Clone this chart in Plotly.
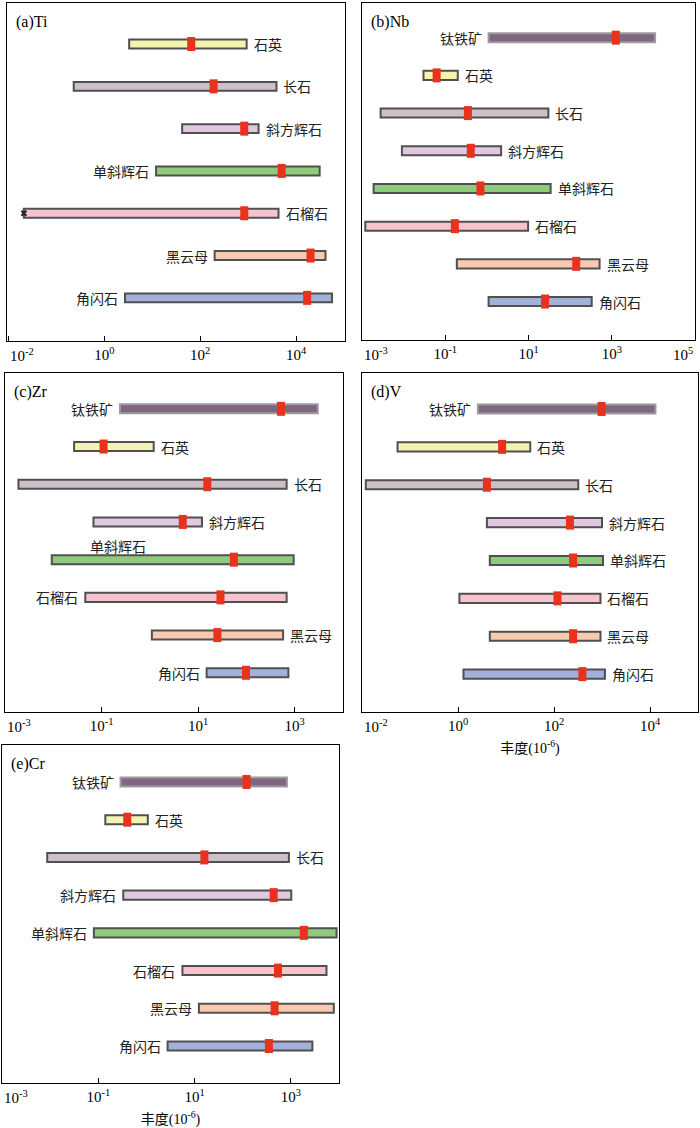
import numpy as np
import plotly.graph_objects as go

# mineral names (top to bottom)
minerals_ti = ['石英', '长石', '斜方辉石', '单斜辉石', '石榴石', '黑云母', '角闪石']
minerals = ['钛铁矿', '石英', '长石', '斜方辉石', '单斜辉石', '石榴石', '黑云母', '角闪石']

# abundance ranges (10^-6): min, max and the red central value
ti_min = [3.3, 0.23, 42, 12, 0.021, 200, 2.7]
ti_max = [930, 3900, 1650, 31000, 4300, 41000, 56000]
ti_mid = [65, 190, 830, 5000, 830, 20000, 17000]

nb_min = [1.1, 0.03, 0.0028, 0.0091, 0.0019, 0.0012, 0.19, 1.1]
nb_max = [11000, 0.2, 30, 2.2, 34, 9.8, 510, 330]
nb_mid = [1250, 0.062, 0.35, 0.41, 0.7, 0.17, 140, 25]

zr_min = [0.24, 0.027, 0.0019, 0.068, 0.0093, 0.046, 1.1, 15]
zr_max = [3000, 1.2, 680, 12, 950, 680, 575, 740]
zr_mid = [520, 0.11, 15.5, 4.8, 55, 29, 25, 98]

v_min = [2.6, 0.055, 0.012, 4.0, 4.6, 1.07, 4.6, 1.3]
v_max = [13000, 32, 320, 1000, 1050, 930, 930, 1150]
v_mid = [980, 8.3, 4.0, 215, 250, 118, 250, 390]

cr_min = [0.29, 0.14, 0.0087, 0.33, 0.081, 5.6, 12.3, 2.75]
cr_max = [830, 1.07, 910, 1020, 8900, 5500, 7800, 2800]
cr_mid = [120, 0.4, 16, 440, 1860, 540, 460, 350]

fill = {'钛铁矿': '#806680', '石英': '#f5f3b0', '长石': '#cdc0c8', '斜方辉石': '#e0c8e0',
        '单斜辉石': '#8fcb7b', '石榴石': '#f7c3cf', '黑云母': '#f8cbb0', '角闪石': '#a3b0da'}
RED = '#e8321e'
SERIF = 'Liberation Serif, Noto Sans CJK SC'
CJK = 'Noto Sans CJK SC'


def ticks(a, b):
	exps = list(range(a, b + 1, 2))
	return exps, ['10<sup>{}</sup>'.format(e) for e in exps]


panels = [
	dict(tag='(a)Ti', names=minerals_ti, lo=ti_min, hi=ti_max, mid=ti_mid,
	     xr=[-2.03, 5.02], tk=ticks(-2, 4), yr=[7.02, -0.97], barw=0.21,
	     xd=[7 / 700, 345 / 700], yd=[1 - 341 / 1128, 1 - 3 / 1128],
	     side=['r', 'r', 'r', 'l', 'r', 'l', 'l'], title=''),
	dict(tag='(b)Nb', names=minerals, lo=nb_min, hi=nb_max, mid=nb_mid,
	     xr=[-3, 5], tk=ticks(-3, 5), yr=[8.02, -0.92], barw=0.24,
	     xd=[362 / 700, 695 / 700], yd=[1 - 340 / 1128, 1 - 3 / 1128],
	     side=['l', 'r', 'r', 'r', 'r', 'r', 'r', 'r'], title=''),
	dict(tag='(c)Zr', names=minerals, lo=zr_min, hi=zr_max, mid=zr_mid,
	     xr=[-3, 4], tk=ticks(-3, 3), yr=[8.04, -0.95], barw=0.24,
	     xd=[5 / 700, 343 / 700], yd=[1 - 712 / 1128, 1 - 373 / 1128],
	     side=['l', 'r', 'r', 'r', 't', 'l', 'r', 'l'], title=''),
	dict(tag='(d)V', names=minerals, lo=v_min, hi=v_max, mid=v_mid,
	     xr=[-2, 5], tk=ticks(-2, 4), yr=[8.0, -0.95], barw=0.24,
	     xd=[362 / 700, 698 / 700], yd=[1 - 712 / 1128, 1 - 373 / 1128],
	     side=['l', 'r', 'r', 'r', 'r', 'r', 'r', 'r'], title='丰度(10<sup>-6</sup>)'),
	dict(tag='(e)Cr', names=minerals, lo=cr_min, hi=cr_max, mid=cr_mid,
	     xr=[-3, 4], tk=ticks(-3, 3), yr=[7.98, -0.98], barw=0.24,
	     xd=[2 / 700, 339 / 700], yd=[1 - 1083 / 1128, 1 - 745 / 1128],
	     side=['l', 'r', 'r', 'l', 'l', 'l', 'l', 'l'], title='丰度(10<sup>-6</sup>)'),
]

fig = go.Figure()
annotations = []

for k, p in enumerate(panels, start=1):
	sfx = '' if k == 1 else str(k)
	xa, ya = 'x' + sfx, 'y' + sfx
	names = p['names']
	ypos = list(range(len(names)))
	lo, hi, mid = np.array(p['lo'], float), np.array(p['hi'], float), np.array(p['mid'], float)

	fig.add_trace(go.Bar(
		y=ypos, x=hi - lo, base=lo, orientation='h', width=p['barw'],
		marker=dict(color=[fill[m] for m in names],
		            line=dict(color=['#9c9c9c' if m == '钛铁矿' else '#505050' for m in names], width=2)),
		xaxis=xa, yaxis=ya, showlegend=False, hoverinfo='skip'))

	fig.add_trace(go.Scatter(
		x=mid, y=ypos, mode='markers', xaxis=xa, yaxis=ya, showlegend=False, hoverinfo='skip',
		marker=dict(symbol='line-ns', size=10, color=RED, line=dict(color=RED, width=8))))

	# mineral labels
	for i, m in enumerate(names):
		s = p['side'][i]
		a = dict(xref=xa, yref=ya, y=i, text=m, showarrow=False,
		         font=dict(family=CJK, size=14, color='#222'))
		if s == 'r':
			a.update(x=np.log10(hi[i]), xanchor='left', xshift=5)
		elif s == 'l':
			a.update(x=np.log10(lo[i]), xanchor='right', xshift=-5)
		else:
			a.update(x=np.log10(lo[i]), xanchor='left', xshift=36, yshift=14)
		annotations.append(a)

	# panel tag
	annotations.append(dict(xref=xa + ' domain', yref=ya + ' domain', x=0, y=1,
	                        xanchor='left', yanchor='top', xshift=7, yshift=-8,
	                        text=p['tag'], showarrow=False,
	                        font=dict(family=SERIF, size=16, color='black')))

	# tick labels: the ones sitting on the frame edge are pulled inside the frame
	exps, txt = p['tk']
	shown = list(txt)
	for j, e in enumerate(exps):
		if abs(e - p['xr'][0]) < 0.05 or abs(e - p['xr'][1]) < 0.05:
			shown[j] = ''
			left = abs(e - p['xr'][0]) < 0.05
			annotations.append(dict(xref=xa, yref=ya + ' domain', x=e, y=0,
			                        xanchor='left' if left else 'right', yanchor='top',
			                        yshift=-3, text=txt[j], showarrow=False,
			                        font=dict(family=SERIF, size=15, color='black')))

	fig.layout['xaxis' + sfx] = dict(
		domain=p['xd'], anchor=ya, type='log', range=p['xr'], automargin=False,
		tickmode='array', tickvals=[10.0 ** e for e in exps], ticktext=shown,
		ticks='inside', ticklen=5, tickcolor='black', ticklabeloverflow='allow',
		showline=True, mirror=True, linecolor='black', linewidth=1,
		showgrid=False, zeroline=False,
		tickfont=dict(family=SERIF, size=15, color='black'),
		title=dict(text=p['title'], standoff=10, font=dict(family=SERIF, size=14, color='black')))
	fig.layout['yaxis' + sfx] = dict(
		domain=p['yd'], anchor=xa, range=p['yr'], showticklabels=False, ticks='',
		automargin=False,
		showline=True, mirror=True, linecolor='black', linewidth=1,
		showgrid=False, zeroline=False)

# small dark mark at the left end of the Ti garnet bar
fig.add_trace(go.Scatter(x=[ti_min[4]], y=[4], mode='markers', xaxis='x', yaxis='y',
                         showlegend=False, hoverinfo='skip',
                         marker=dict(symbol='x-thin', size=5, color='#222',
                                     line=dict(color='#222', width=2))))

fig.update_layout(
	width=700, height=1128,
	margin=dict(l=0, r=0, t=0, b=0),
	paper_bgcolor='white', plot_bgcolor='white',
	annotations=annotations,
	barmode='overlay'
)

fig.write_html("out.html", config={'displayModeBar': False},
               post_script="document.body.style.margin='0';")
